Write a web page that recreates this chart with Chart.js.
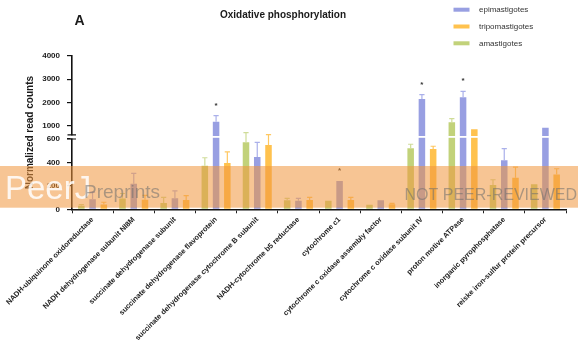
<!DOCTYPE html>
<html>
<head>
<meta charset="utf-8">
<script src="https://cdn.jsdelivr.net/npm/chart.js@4.4.1/dist/chart.umd.min.js"></script>
<style>
  html, body { margin: 0; padding: 0; background: #ffffff; }
  #wrap { width: 578px; height: 344px; position: relative; }
</style>
</head>
<body>
<div id="wrap"><canvas id="chart" width="578" height="344"></canvas></div>
<script>
// Oxidative phosphorylation genes: normalized read counts per life stage (mean and SD)
const categories = [
  'NADH-ubiquinone oxidoreductase',
  'NADH dehydrogenase subunit NI8M',
  'succinate dehydrogenase subunit',
  'succinate dehydrogenase flavoprotein',
  'succinate dehydrogenase cytochrome B subunit',
  'NADH-cytochrome b5 reductase',
  'cytochrome c1',
  'cytochrome c oxidase assembly factor',
  'cytochrome c oxidase subunit IV',
  'proton motive ATPase',
  'inorganic pyrophosphatase',
  'reiske iron-sulfur protein precursor'
];

const amastigotes     = [31, 92, 54, 372, 572, 77, 73, 38, 522, 1140, 207, 213];
const amastigotesSD   = [9, 43, 48, 68, 119, 17, null, null, 33, 155, 45, null];
const epimastigotes   = [86, 217, 95, 1165, 446, 73, 241, 77, 2145, 2218, 418, 906];
const epimastigotesSD = [60, 90, 62, 259, 126, 21, null, null, 185, 259, 99, null];
const tripomastigotes = [41, 81, 80, 396, 549, 79, 79, 43, 515, 837, 270, 298];
const tripomastigotesSD = [19, 37, 36, 94, 56, 23, 23, 7, 23, null, 90, 48];

// stars over the epimastigote bar
const significant = [false, false, false, true, false, false, true, false, true, true, false, false];

const yTickValues = [0, 200, 400, 600, 1000, 2000, 3000, 4000];

// broken value axis: 0-600 below the break, 600-4000 above it
const LOWER_MAX = 600, UPPER_MAX = 4000;
const LOWER_FRAC = 0.4586, UPPER_START = 0.4860;

class BrokenLinearScale extends Chart.LinearScale {
  getPixelForValue(v) {
    if (v === null || v === undefined || isNaN(v)) return NaN;
    let dec;
    if (v <= LOWER_MAX) dec = (v / LOWER_MAX) * LOWER_FRAC;
    else dec = UPPER_START + (v - LOWER_MAX) / (UPPER_MAX - LOWER_MAX) * (1 - UPPER_START);
    return this.getPixelForDecimal(dec);
  }
  getValueForPixel(p) {
    const dec = this.getDecimalForPixel(p);
    if (dec <= LOWER_FRAC) return dec / LOWER_FRAC * LOWER_MAX;
    if (dec < UPPER_START) return LOWER_MAX;
    return LOWER_MAX + (dec - UPPER_START) / (1 - UPPER_START) * (UPPER_MAX - LOWER_MAX);
  }
}
BrokenLinearScale.id = 'brokenLinear';
BrokenLinearScale.defaults = { ticks: { callback: (v) => String(v) } };
Chart.register(BrokenLinearScale);

const FONT = "'Liberation Sans', Arial, Helvetica, sans-serif";
const COLORS = {
  amast: '#c2d27a', amastErr: '#cfdc98',
  epi: '#989fe2', epiErr: '#aab0ea',
  tripo: '#ffc24e', tripoErr: '#ffc862'
};

const errorSets = [amastigotesSD, epimastigotesSD, tripomastigotesSD];
const errorColors = [COLORS.amastErr, COLORS.epiErr, COLORS.tripoErr];
const legendOrder = [1, 2, 0];

const decorations = {
  id: 'decorations',
  afterDatasetsDraw(chart) {
    const ctx = chart.ctx;
    const y = chart.scales.y;
    const area = chart.chartArea;
    const breakLow = y.getPixelForValue(LOWER_MAX);
    const breakHigh = y.getPixelForValue(LOWER_MAX + 0.001);
    const mid = (breakLow + breakHigh) / 2;

    ctx.save();
    // white cut through tall bars at the axis break
    ctx.fillStyle = '#ffffff';
    ctx.fillRect(area.left - 3, mid - 0.9, area.right - area.left + 3, 1.8);

    // error bars (upper SD)
    chart.data.datasets.forEach((ds, i) => {
      const meta = chart.getDatasetMeta(i);
      const sd = errorSets[i];
      ctx.strokeStyle = errorColors[i];
      ctx.lineWidth = 1.2;
      meta.data.forEach((bar, j) => {
        if (sd[j] === null || sd[j] === undefined) return;
        const top = y.getPixelForValue(ds.data[j] + sd[j]);
        ctx.beginPath();
        ctx.moveTo(bar.x, bar.y);
        ctx.lineTo(bar.x, top);
        ctx.moveTo(bar.x - 2.6, top);
        ctx.lineTo(bar.x + 2.6, top);
        ctx.stroke();
      });
    });

    // significance stars
    const epiMeta = chart.getDatasetMeta(1);
    ctx.fillStyle = '#333333';
    ctx.font = 'bold 8px ' + FONT;
    ctx.textAlign = 'center';
    ctx.textBaseline = 'middle';
    significant.forEach((s, j) => {
      if (!s) return;
      const v = epimastigotes[j] + (epimastigotesSD[j] || 0);
      const yy = y.getPixelForValue(v) - 10;
      ctx.fillText('*', epiMeta.data[j].x, yy);
    });

    // break marks on the value axis
    const ax = area.left;
    ctx.fillStyle = '#ffffff';
    ctx.fillRect(ax - 2, breakHigh + 0.6, 4, breakLow - breakHigh - 1.2);
    ctx.strokeStyle = '#111111';
    ctx.lineWidth = 1.2;
    ctx.beginPath();
    ctx.moveTo(ax - 4.5, breakHigh); ctx.lineTo(ax + 4, breakHigh);
    ctx.moveTo(ax - 5, breakLow); ctx.lineTo(ax + 4, breakLow);
    ctx.stroke();
    ctx.restore();
  },
  afterDraw(chart) {
    const ctx = chart.ctx;
    ctx.save();
    // panel letter and title
    ctx.fillStyle = '#1a1a1a';
    ctx.textBaseline = 'alphabetic';
    ctx.textAlign = 'left';
    ctx.font = 'bold 14px ' + FONT;
    ctx.fillText('A', 74.5, 25);
    ctx.textAlign = 'center';
    ctx.font = 'bold 10px ' + FONT;
    ctx.fillText('Oxidative phosphorylation', 283, 17.5);

    // legend
    ctx.textAlign = 'left';
    ctx.textBaseline = 'middle';
    ctx.font = '8px ' + FONT;
    legendOrder.forEach((di, k) => {
      const ds = chart.data.datasets[di];
      const cy = 9.7 + k * 16.8;
      ctx.fillStyle = ds.backgroundColor;
      ctx.fillRect(453.5, cy - 2, 16, 4);
      ctx.fillStyle = '#333333';
      ctx.fillText(ds.label, 479, cy + 0.5);
    });

    // preprint banner
    ctx.fillStyle = 'rgba(240, 150, 60, 0.55)';
    ctx.fillRect(0, 166, 578, 41.7);
    ctx.textBaseline = 'alphabetic';
    ctx.textAlign = 'left';
    ctx.fillStyle = 'rgba(255, 255, 255, 0.85)';
    ctx.font = '33px ' + FONT;
    ctx.fillText('PeerJ', 5, 199);
    ctx.fillStyle = 'rgba(110, 110, 110, 0.55)';
    ctx.font = '19px ' + FONT;
    ctx.fillText('Preprints', 84, 197.5);
    ctx.textAlign = 'right';
    ctx.font = '16px ' + FONT;
    ctx.fillStyle = 'rgba(110, 110, 110, 0.55)';
    ctx.fillText('NOT PEER-REVIEWED', 577, 199.5);
    ctx.restore();
  }
};

new Chart(document.getElementById('chart'), {
  type: 'bar',
  data: {
    labels: categories,
    datasets: [
      { label: 'amastigotes', data: amastigotes, backgroundColor: COLORS.amast },
      { label: 'epimastigotes', data: epimastigotes, backgroundColor: COLORS.epi },
      { label: 'tripomastigotes', data: tripomastigotes, backgroundColor: COLORS.tripo }
    ]
  },
  options: {
    responsive: false,
    animation: false,
    devicePixelRatio: 1,
    layout: { padding: { top: 56, left: 0, right: 12, bottom: 0 } },
    datasets: { bar: { categoryPercentage: 0.82, barPercentage: 0.58, borderWidth: 0 } },
    plugins: { legend: { display: false }, title: { display: false }, tooltip: { enabled: false } },
    scales: {
      x: {
        grid: { display: true, drawOnChartArea: false, drawTicks: true, tickLength: 4, color: '#222222', lineWidth: 1 },
        border: { display: true, color: '#111111', width: 1.6 },
        ticks: {
          autoSkip: false, maxRotation: 45, minRotation: 45, padding: 2,
          color: '#222222', font: { family: FONT, size: 7.4, weight: 'bold' }
        },
        afterFit(scale) { scale.height = 134.7; }
      },
      y: {
        type: 'brokenLinear',
        min: 0,
        max: 4000,
        grid: { display: true, drawOnChartArea: false, drawTicks: true, tickLength: 5, color: '#111111', lineWidth: 1.2 },
        border: { display: true, color: '#111111', width: 1.6 },
        ticks: {
          autoSkip: false, padding: 7, color: '#1a1a1a',
          font: { family: FONT, size: 8, weight: 'bold' },
          callback: (v) => String(v)
        },
        afterBuildTicks(scale) { scale.ticks = yTickValues.map(v => ({ value: v })); },
        title: {
          display: true, text: 'Normalized read counts', color: '#1a1a1a',
          font: { family: FONT, size: 10, weight: 'bold' },
          padding: { top: 24.7, bottom: 0 }
        },
        afterFit(scale) { scale.width = 72; }
      }
    }
  },
  plugins: [decorations]
});
</script>
</body>
</html>
